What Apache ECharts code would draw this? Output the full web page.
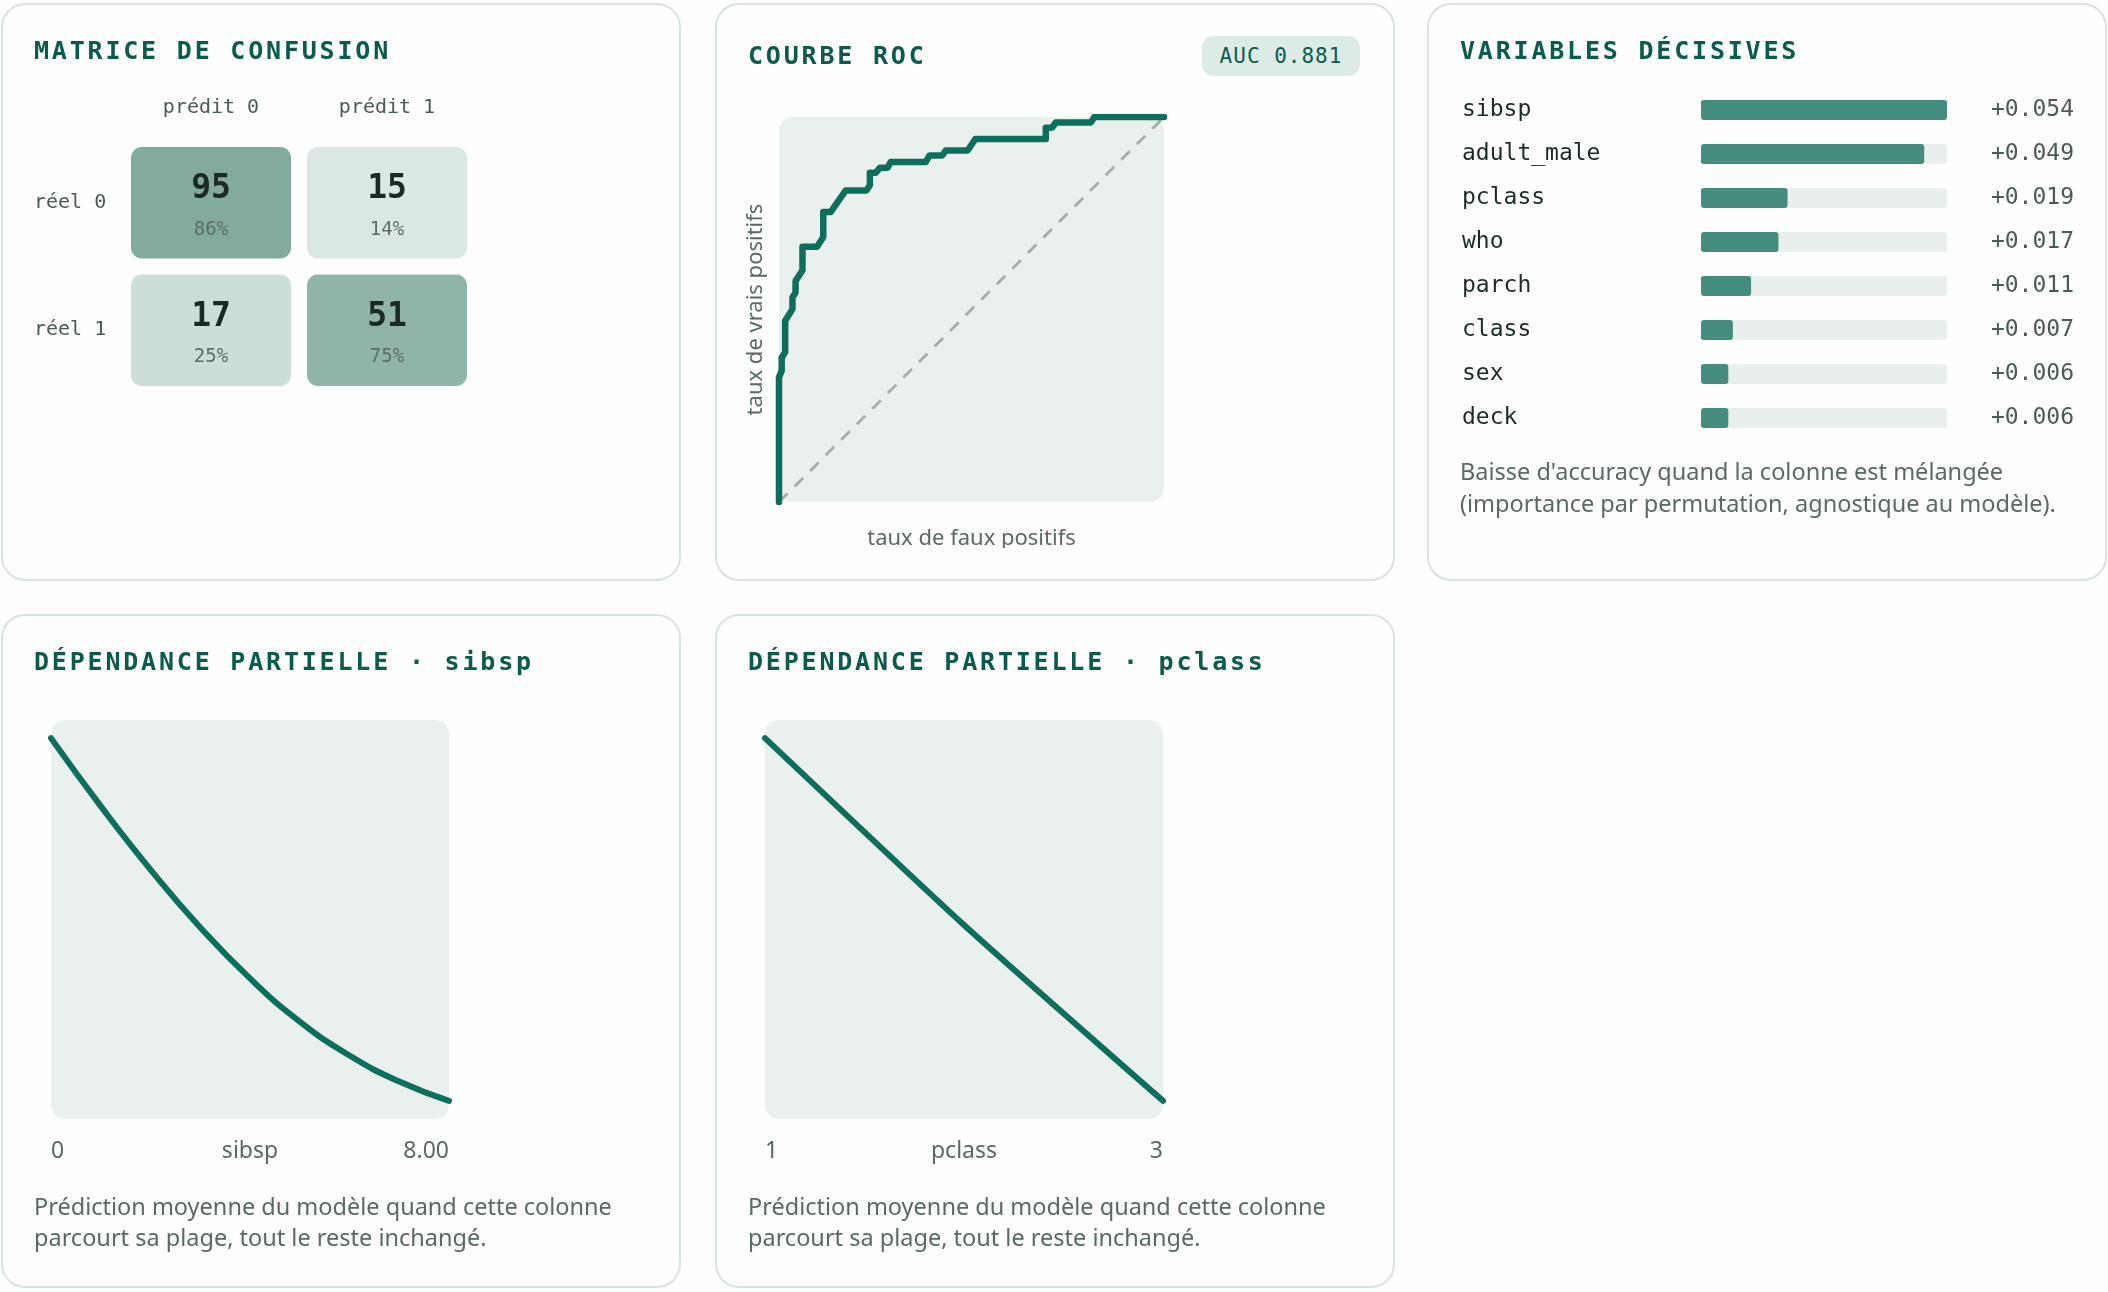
<!DOCTYPE html>
<html lang="fr">
<head>
<meta charset="utf-8">
<title>Diagnostics du modèle</title>
<script src="https://cdn.jsdelivr.net/npm/echarts@6/dist/echarts.min.js"></script>
<style>
  html, body { margin: 0; padding: 0; background: #fcfdfc; }
  body { width: 2108px; height: 1292px; position: relative; overflow: hidden; }
  .card {
    position: absolute; width: 680px; border-radius: 24px; background: #fdfefd;
    box-shadow: inset 0 0 0 2px #d9e4e0;
  }
  .row1 { top: 3px; height: 578px; }
  .row2 { top: 614px; height: 674px; }
  .title {
    position: absolute; left: 33px; top: 33px; z-index: 2;
    font-family: "DejaVu Sans Mono", monospace; font-size: 25px; line-height: 30px;
    letter-spacing: 2.8px; font-weight: bold; color: #0b5b4d; white-space: nowrap;
  }
  .badge {
    position: absolute; left: 487px; top: 33px; width: 158px; height: 40px; z-index: 2;
    border-radius: 12px; background: #dcebe6; color: #0c5c4e;
    font-family: "DejaVu Sans Mono", monospace; font-size: 21px; letter-spacing: 1px;
    line-height: 40px; text-align: center;
  }
  .chart { position: absolute; left: 0; top: 0; width: 680px; }
  .caption {
    position: absolute; left: 33px; z-index: 2; margin: 0;
    font-family: "Noto Sans", Roboto, sans-serif; font-size: 23.5px; line-height: 32px;
    color: #5a6965; white-space: nowrap;
  }
</style>
</head>
<body>
  <div class="card row1" style="left:1px">
    <div class="title">MATRICE DE CONFUSION</div>
    <div class="chart" id="cm" style="height:578px"></div>
  </div>

  <div class="card row1" style="left:715px">
    <div class="title" style="top:38px">COURBE ROC</div>
    <div class="badge">AUC 0.881</div>
    <div class="chart" id="roc" style="height:545px"></div>
  </div>

  <div class="card row1" style="left:1427px">
    <div class="title">VARIABLES DÉCISIVES</div>
    <div class="chart" id="feat" style="height:578px"></div>
    <p class="caption" style="top:452px">Baisse d'accuracy quand la colonne est mélangée<br>(importance par permutation, agnostique au modèle).</p>
  </div>

  <div class="card row2" style="left:1px">
    <div class="title">DÉPENDANCE PARTIELLE · sibsp</div>
    <div class="chart" id="pd1" style="height:674px"></div>
    <p class="caption" style="top:577px;line-height:31px">Prédiction moyenne du modèle quand cette colonne<br>parcourt sa plage, tout le reste inchangé.</p>
  </div>

  <div class="card row2" style="left:715px">
    <div class="title">DÉPENDANCE PARTIELLE · pclass</div>
    <div class="chart" id="pd2" style="height:674px"></div>
    <p class="caption" style="top:577px;line-height:31px">Prédiction moyenne du modèle quand cette colonne<br>parcourt sa plage, tout le reste inchangé.</p>
  </div>

<script>
// --- data ---
const cmCols = ['prédit 0', 'prédit 1'];
const cmRows = ['réel 0', 'réel 1'];
const cmCounts = [[95, 15], [17, 51]];

const rocFpr = [0, 0, 0.007, 0.007, 0.016, 0.016, 0.035, 0.035, 0.043, 0.043, 0.061, 0.061, 0.099, 0.115, 0.115, 0.134,
  0.173, 0.227, 0.236, 0.236, 0.251, 0.262, 0.282, 0.290, 0.381, 0.391, 0.424, 0.433, 0.490, 0.510, 0.693, 0.693,
  0.710, 0.719, 0.810, 0.819, 1];
const rocTpr = [0, 0.324, 0.341, 0.375, 0.389, 0.471, 0.501, 0.531, 0.544, 0.574, 0.602, 0.663, 0.663, 0.688, 0.753, 0.753,
  0.809, 0.809, 0.823, 0.855, 0.855, 0.868, 0.868, 0.883, 0.883, 0.900, 0.900, 0.913, 0.913, 0.943, 0.943, 0.972,
  0.973, 0.986, 0.986, 1, 1];
const chanceLine = [0, 1];

const featNames = ['sibsp', 'adult_male', 'pclass', 'who', 'parch', 'class', 'sex', 'deck'];
const featImportance = [0.054, 0.049, 0.019, 0.017, 0.011, 0.007, 0.006, 0.006];

const sibspX = [0, 1, 2, 3, 4, 5, 6, 7, 8];
const sibspPD = [0.420, 0.360, 0.304, 0.253, 0.208, 0.170, 0.140, 0.117, 0.100];
const sibspTicks = ['0', '8.00'];

const pclassX = [1, 2, 3];
const pclassPD = [0.580, 0.410, 0.250];
const pclassTicks = ['1', '3'];

// --- styles ---
const MONO = '"DejaVu Sans Mono", monospace';
const SANS = '"Noto Sans", Roboto, sans-serif';
const INK = '#0e6e5c';
const PLOT_BG = '#eaf0ed';
const MUTED = '#5a6965';

// matrice de confusion
const cmData = [];
cmCounts.forEach((row, r) => {
  const total = row.reduce((a, b) => a + b, 0);
  row.forEach((v, c) => cmData.push([c, r, v, v / total * 100]));
});

const cmChart = echarts.init(document.getElementById('cm'));
cmChart.setOption({
  animation: false,
  grid: { left: 122, top: 136, width: 352, height: 255, outerBoundsMode: 'none' },
  xAxis: {
    type: 'category', data: cmCols, position: 'top',
    axisLine: { show: false }, axisTick: { show: false }, splitLine: { show: false },
    axisLabel: { fontFamily: MONO, fontSize: 20, color: '#4b5a56', margin: 21 }
  },
  yAxis: {
    type: 'category', data: cmRows, inverse: true,
    axisLine: { show: false }, axisTick: { show: false }, splitLine: { show: false },
    axisLabel: { fontFamily: MONO, fontSize: 20, color: '#4b5a56', align: 'left', margin: 89 }
  },
  visualMap: {
    show: false, type: 'continuous', dimension: 3, min: 0, max: 100,
    inRange: { color: ['#ebf2ee', '#739f92'] }
  },
  series: [{
    type: 'custom',
    data: cmData,
    renderItem: (params, api) => {
      const c = api.coord([api.value(0), api.value(1)]);
      const size = api.size([1, 1]);
      const w = size[0] - 16, h = size[1] - 16;
      return {
        type: 'group',
        children: [
          { type: 'rect', shape: { x: c[0] - w / 2, y: c[1] - h / 2, width: w, height: h, r: 11 },
            style: { fill: api.visual('color') } },
          { type: 'text', style: { text: String(api.value(2)), x: c[0], y: c[1] - 13, align: 'center',
            verticalAlign: 'middle', fontFamily: MONO, fontWeight: 'bold', fontSize: 33, fill: '#1c2a26' } },
          { type: 'text', style: { text: Math.round(api.value(3)) + '%', x: c[0], y: c[1] + 27, align: 'center',
            verticalAlign: 'middle', fontFamily: MONO, fontSize: 19, fill: '#5b6f69' } }
        ]
      };
    }
  }]
});

// courbe ROC
const rocGrid = { left: 64, top: 114, width: 385, height: 385, outerBoundsMode: 'none' };
const rocChart = echarts.init(document.getElementById('roc'));
rocChart.setOption({
  animation: false,
  grid: rocGrid,
  graphic: [{
    type: 'rect', left: rocGrid.left, top: rocGrid.top, z: -10, silent: true,
    shape: { width: rocGrid.width, height: rocGrid.height, r: 14 }, style: { fill: PLOT_BG }
  }],
  xAxis: {
    type: 'value', min: 0, max: 1,
    axisLine: { show: false }, axisTick: { show: false }, axisLabel: { show: false }, splitLine: { show: false },
    name: 'taux de faux positifs', nameLocation: 'middle', nameGap: 26, nameMoveOverlap: false,
    nameTextStyle: { fontFamily: SANS, fontSize: 22, color: MUTED }
  },
  yAxis: {
    type: 'value', min: 0, max: 1,
    axisLine: { show: false }, axisTick: { show: false }, axisLabel: { show: false }, splitLine: { show: false },
    name: 'taux de vrais positifs', nameLocation: 'middle', nameRotate: 90, nameGap: 12, nameMoveOverlap: false,
    nameTextStyle: { fontFamily: SANS, fontSize: 22, color: MUTED }
  },
  series: [
    {
      type: 'line', data: chanceLine.map(v => [v, v]), showSymbol: false, silent: true,
      lineStyle: { type: [12, 10], width: 2.8, color: '#a5aca9' }
    },
    {
      type: 'line', data: rocFpr.map((x, i) => [x, rocTpr[i]]), showSymbol: false, z: 3,
      lineStyle: { width: 6.5, color: INK, cap: 'round', join: 'round' }
    }
  ]
});

// variables décisives
const featChart = echarts.init(document.getElementById('feat'));
featChart.setOption({
  animation: false,
  grid: { left: 274, top: 85, width: 246, height: 352, outerBoundsMode: 'none' },
  xAxis: { type: 'value', min: 0, max: Math.max(...featImportance), show: false },
  yAxis: [
    {
      type: 'category', data: featNames, inverse: true,
      axisLine: { show: false }, axisTick: { show: false }, splitLine: { show: false },
      axisLabel: { fontFamily: MONO, fontSize: 23, color: '#1c2a26', align: 'left', margin: 239 }
    },
    {
      type: 'category', data: featNames, inverse: true, position: 'right',
      axisLine: { show: false }, axisTick: { show: false }, splitLine: { show: false },
      axisLabel: {
        fontFamily: MONO, fontSize: 23, color: '#4b5a56', align: 'right', margin: 127,
        formatter: (v, i) => '+' + featImportance[i].toFixed(3)
      }
    }
  ],
  series: [{
    type: 'bar', data: featImportance, barWidth: 20,
    showBackground: true,
    backgroundStyle: { color: '#e9efec', borderRadius: 3 },
    itemStyle: { color: '#458c7e', borderRadius: 3 }
  }]
});

// dépendance partielle
function pdOption(xs, ys, ticks, name, smooth) {
  const grid = { left: 50, top: 106, width: 398, height: 399, outerBoundsMode: 'none' };
  const xMin = Math.min(...xs), xMax = Math.max(...xs);
  return {
    animation: false,
    grid: grid,
    graphic: [{
      type: 'rect', left: grid.left, top: grid.top, z: -10, silent: true,
      shape: { width: grid.width, height: grid.height, r: 14 }, style: { fill: PLOT_BG }
    }],
    xAxis: {
      type: 'value', min: xMin, max: xMax, interval: xMax - xMin,
      axisLine: { show: false }, axisTick: { show: false }, splitLine: { show: false },
      axisLabel: {
        fontFamily: SANS, fontSize: 23, color: MUTED, margin: 21,
        alignMinLabel: 'left', alignMaxLabel: 'right',
        formatter: v => (v === xMin ? ticks[0] : ticks[ticks.length - 1])
      },
      name: name, nameLocation: 'middle', nameGap: 21, nameMoveOverlap: false,
      nameTextStyle: { fontFamily: SANS, fontSize: 23, color: MUTED }
    },
    yAxis: {
      type: 'value', show: false,
      min: v => v.min - (v.max - v.min) * 0.05,
      max: v => v.max + (v.max - v.min) * 0.05
    },
    series: [{
      type: 'line', data: xs.map((x, i) => [x, ys[i]]), smooth: smooth,
      showSymbol: false, lineStyle: { width: 6, color: INK, cap: 'round' }
    }]
  };
}

const pd1 = echarts.init(document.getElementById('pd1'));
pd1.setOption(pdOption(sibspX, sibspPD, sibspTicks, 'sibsp', 0.5));
const pd2 = echarts.init(document.getElementById('pd2'));
pd2.setOption(pdOption(pclassX, pclassPD, pclassTicks, 'pclass', 0.2));
</script>
</body>
</html>
